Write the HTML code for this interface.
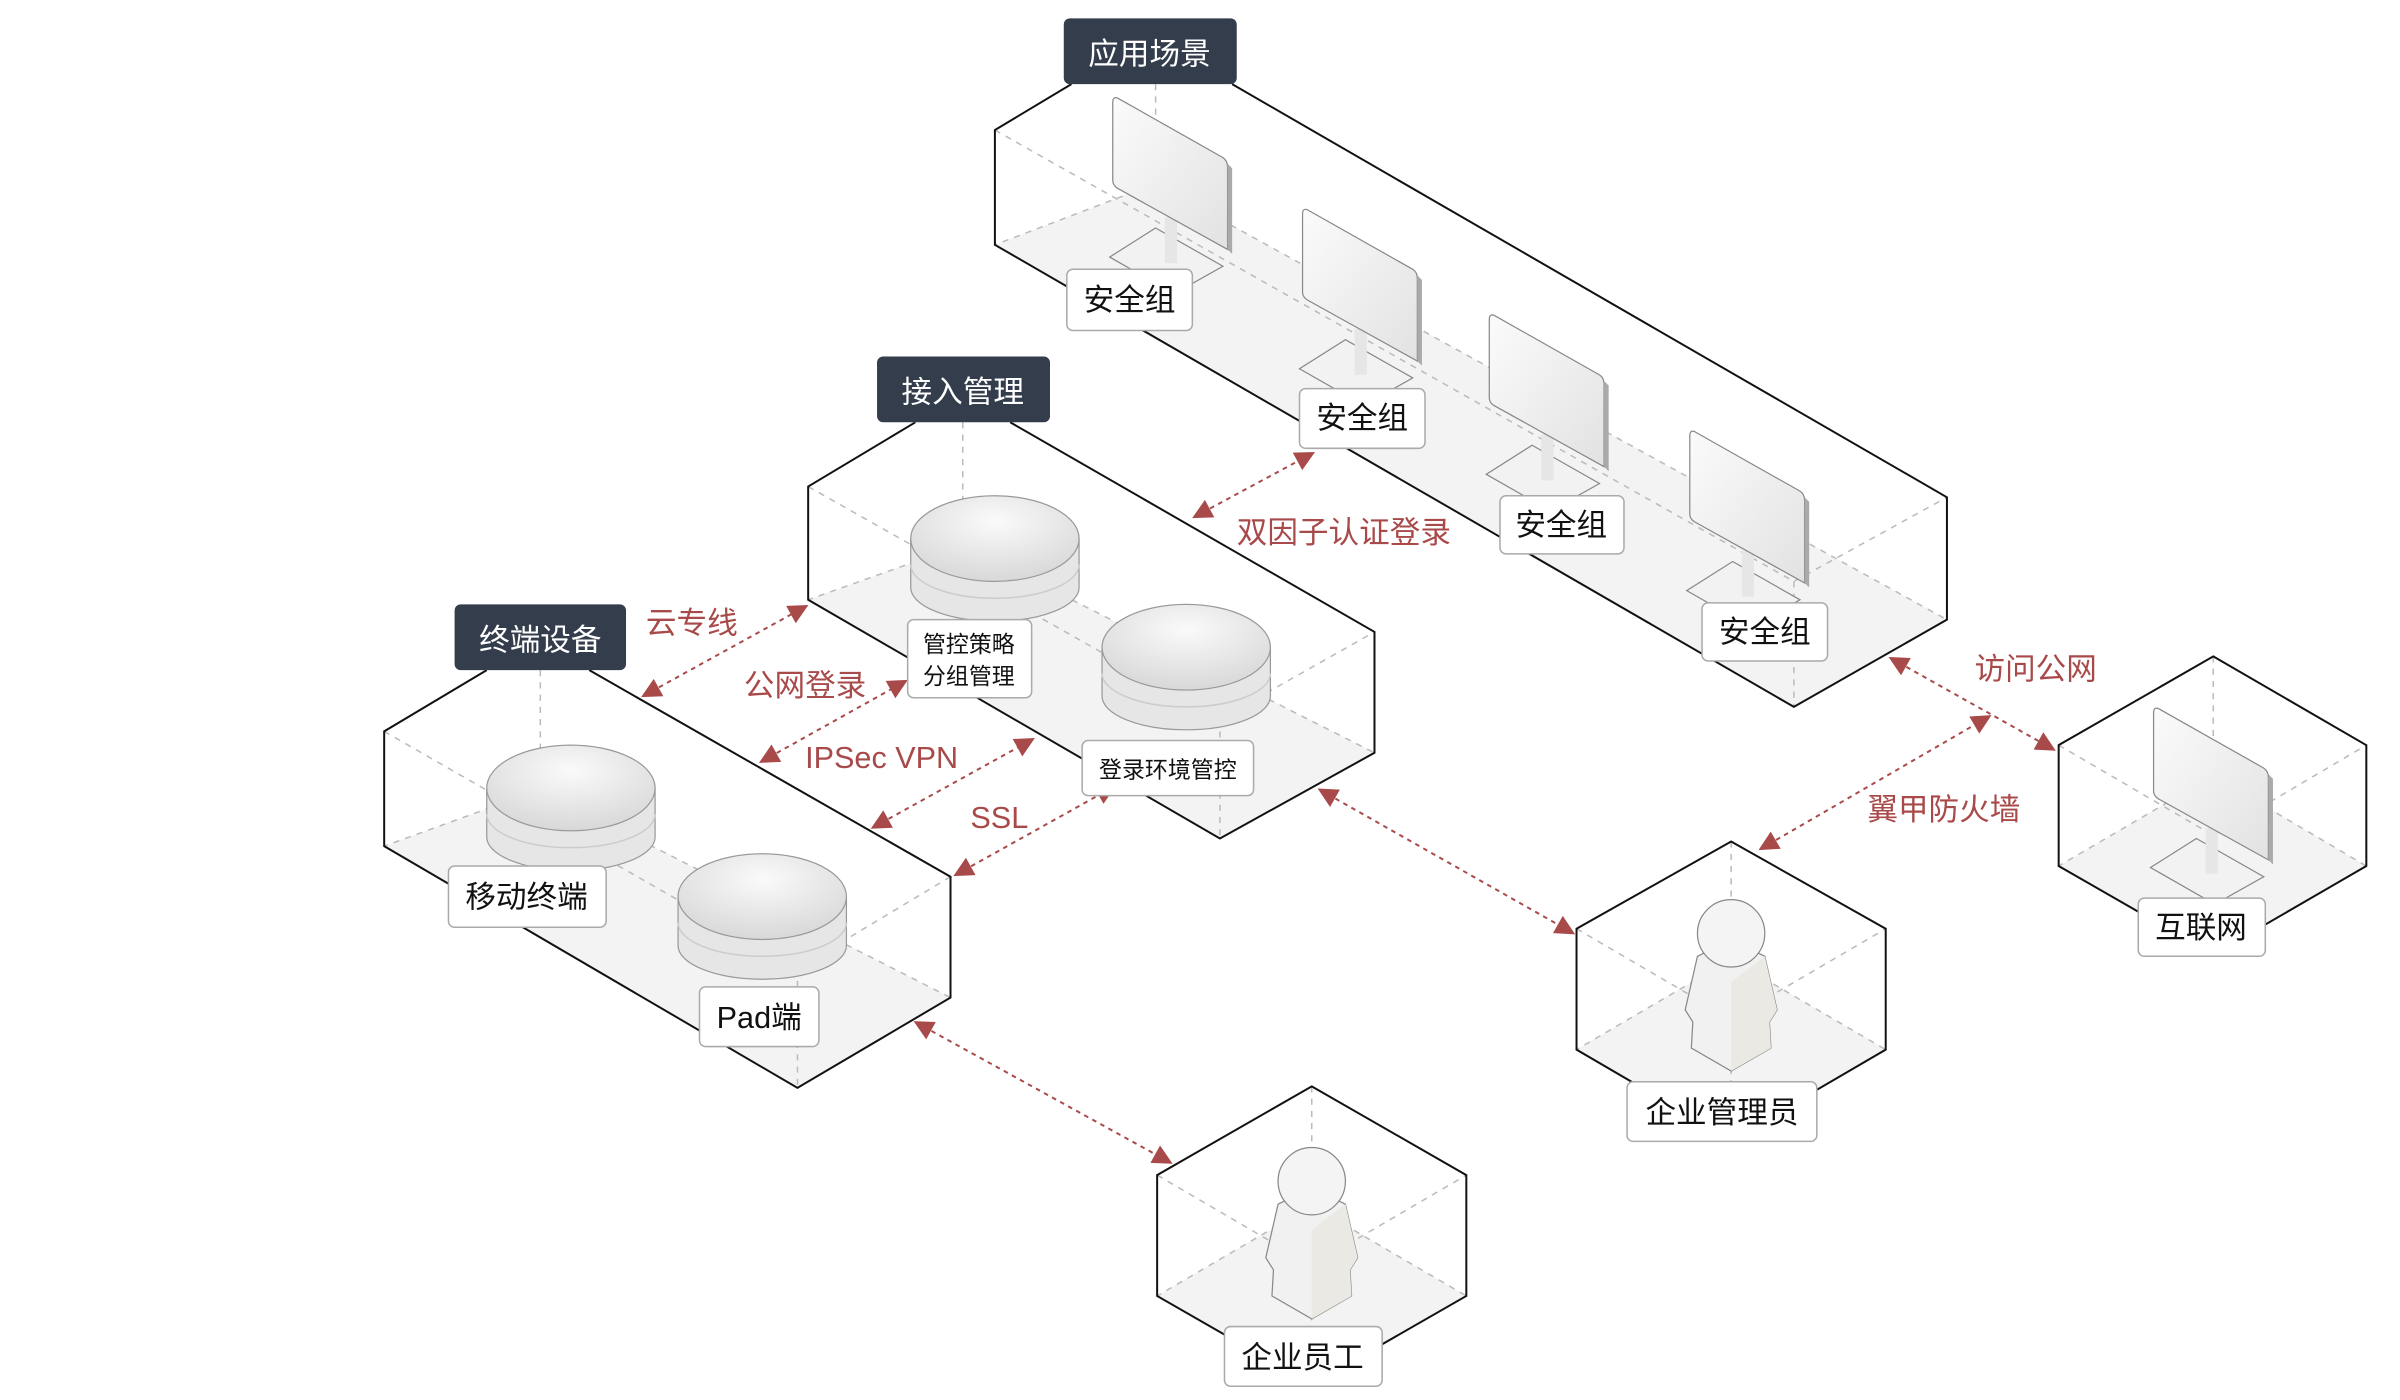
<!DOCTYPE html>
<html><head><meta charset="utf-8"><style>
html,body{margin:0;padding:0;background:#fff;}
svg{display:block}
text{font-family:"Liberation Sans","Noto Sans CJK SC",sans-serif;}
</style></head><body>
<svg width="2400" height="1400" viewBox="0 0 1568 915" preserveAspectRatio="none" xmlns="http://www.w3.org/2000/svg">
<defs>
<marker id="ah" viewBox="0 0 10 10" refX="9" refY="5" markerWidth="17" markerHeight="13" orient="auto-start-reverse" markerUnits="userSpaceOnUse">
<path d="M0,0 L10,5 L0,10 z" fill="#a94a4a"/></marker>
<linearGradient id="scr" x1="0" y1="0" x2="1" y2="1"><stop offset="0" stop-color="#fbfbfb"/><stop offset="1" stop-color="#e2e2e2"/></linearGradient>
<radialGradient id="cyl" cx="0.5" cy="0.3" r="0.7"><stop offset="0" stop-color="#fafafa"/><stop offset="1" stop-color="#d8d8d8"/></radialGradient>
<g id="mon">
<path d="M28,85 L72,110 L40,128 L-2,104 z" fill="#f2f2f2" stroke="#888" stroke-width="0.8"/>
<rect x="34" y="78" width="8" height="30" fill="#e6e6e6"/>
<path d="M3,0 L72,39 Q75,41 75,45 L75,99 L3,59 Q0,57 0,54 L0,3 Q0,-1 3,0 z" fill="url(#scr)" stroke="#888" stroke-width="0.8"/>
<path d="M75,43 L78,46 L78,102 L75,99 z" fill="#aaa"/>
</g>
<g id="cy">
<path d="M0,28 L0,60 A55,22 0 0 0 110,60 L110,28" fill="#e6e6e6" stroke="#999" stroke-width="0.8"/>
<ellipse cx="55" cy="28" rx="55" ry="28" fill="url(#cyl)" stroke="#999" stroke-width="0.8"/>
<path d="M0,45 A55,22 0 0 0 110,45" fill="none" stroke="#ccc"/>
</g>
<g id="per">
<path d="M-22,55 L-30,90 L-25,98 L-26,115 L0,130 L26,115 L25,98 L30,90 L22,55 L0,44 z" fill="#f1f1f1" stroke="#888" stroke-width="0.8"/>
<path d="M0,72 L0,130 L26,115 L25,98 L30,90 L22,55 z" fill="#ebe9e4"/>
<circle cx="0" cy="40" r="22" fill="#f4f4f4" stroke="#888" stroke-width="0.8"/>
</g>
</defs>

<!-- box 应用场景 -->
<polygon points="650,160 1172,462 1272,405 1272,325 755,80 650,85" fill="#fff"/>
<polygon points="650,160 755,120 1272,405 1172,462" fill="#f3f3f3"/>
<g stroke="#bbb" stroke-dasharray="4,4" fill="none"><path d="M755,55 L755,120 L650,160 M755,120 L1272,405 M650,85 L1172,380 L1272,325 M1172,380 L1172,462"/></g>
<path d="M700,55 L650,85 L650,160 L1172,462 L1272,405 L1272,325 L805,55" fill="none" stroke="#111" stroke-width="1.3"/>

<!-- box 接入管理 -->
<polygon points="528,318 598,276 660,276 898,413 898,492 797,548 528,392" fill="#fff"/>
<polygon points="528,392 629,356 898,492 797,548" fill="#f3f3f3"/>
<g stroke="#bbb" stroke-dasharray="4,4" fill="none"><path d="M629,276 L629,356 L528,392 M629,356 L898,492 M528,318 L797,470 L898,413 M797,470 L797,548"/></g>
<path d="M598,276 L528,318 L528,392 L797,548 L898,492 L898,413 L660,276" fill="none" stroke="#111" stroke-width="1.3"/>

<!-- box 终端设备 -->
<polygon points="251,478 318,438 385,438 621,573 621,652 521,711 251,553" fill="#fff"/>
<polygon points="251,553 353,516 621,652 521,711" fill="#f3f3f3"/>
<g stroke="#bbb" stroke-dasharray="4,4" fill="none"><path d="M353,438 L353,516 L251,553 M353,516 L621,652 M251,478 L521,633 L621,573 M521,633 L521,711"/></g>
<path d="M318,438 L251,478 L251,553 L521,711 L621,652 L621,573 L385,438" fill="none" stroke="#111" stroke-width="1.3"/>

<!-- hexagons -->
<g>
<polygon points="1030,686 1131,627 1232,686 1131,745" fill="#f3f3f3"/>
<path d="M1131,550 L1131,627 L1030,686 M1131,627 L1232,686 M1030,607 L1131,666 L1232,607 M1131,666 L1131,745" stroke="#bbb" stroke-dasharray="4,4" fill="none"/>
<polygon points="1131,550 1232,607 1232,686 1131,745 1030,686 1030,607" fill="none" stroke="#111" stroke-width="1.3"/>
<polygon points="756,847 857,788 958,847 857,905" fill="#f3f3f3"/>
<path d="M857,710 L857,788 L756,847 M857,788 L958,847 M756,768 L857,827 L958,768 M857,827 L857,905" stroke="#bbb" stroke-dasharray="4,4" fill="none"/>
<polygon points="857,710 958,768 958,847 857,905 756,847 756,768" fill="none" stroke="#111" stroke-width="1.3"/>
<polygon points="1345,566 1446,507 1546,566 1446,624" fill="#f3f3f3"/>
<path d="M1446,429 L1446,507 L1345,566 M1446,507 L1546,566 M1345,487 L1446,546 L1546,487 M1446,546 L1446,624" stroke="#bbb" stroke-dasharray="4,4" fill="none"/>
<polygon points="1446,429 1546,487 1546,566 1446,624 1345,566 1345,487" fill="none" stroke="#111" stroke-width="1.3"/>
</g>

<!-- devices -->
<use href="#mon" x="727" y="64"/>
<use href="#mon" x="851" y="137"/>
<use href="#mon" x="973" y="206"/>
<use href="#mon" x="1104" y="282"/>
<use href="#mon" x="1407" y="463"/>
<use href="#cy" x="595" y="324"/>
<use href="#cy" x="720" y="395"/>
<use href="#cy" x="318" y="487"/>
<use href="#cy" x="443" y="558"/>
<use href="#per" x="1131" y="570"/>
<use href="#per" x="857" y="732"/>

<!-- connectors -->
<g stroke="#a94a4a" stroke-width="1.3" stroke-dasharray="3,3" fill="none" marker-start="url(#ah)" marker-end="url(#ah)">
<line x1="780" y1="338" x2="858" y2="296"/>
<line x1="1235" y1="430" x2="1342" y2="490"/>
<line x1="1150" y1="555" x2="1300" y2="468"/>
<line x1="420" y1="455" x2="527" y2="396"/>
<line x1="497" y1="498" x2="592" y2="445"/>
<line x1="570" y1="541" x2="675" y2="483"/>
<line x1="624" y1="572" x2="728" y2="514"/>
<line x1="862" y1="516" x2="1028" y2="610"/>
<line x1="598" y1="668" x2="765" y2="760"/>
</g>
<g fill="#a94a4a" font-size="20">
<text x="808" y="355">双因子认证登录</text>
<text x="1290" y="444">访问公网</text>
<text x="1220" y="536">翼甲防火墙</text>
<text x="422" y="414">云专线</text>
<text x="486" y="455">公网登录</text>
<text x="526" y="502">IPSec VPN</text>
<text x="634" y="541">SSL</text>
</g>

<!-- dark headers -->
<g font-size="20" fill="#fff">
<rect x="695" y="12" width="113" height="43" rx="4" fill="#333d4c"/><text x="751" y="42" text-anchor="middle">应用场景</text>
<rect x="573" y="233" width="113" height="43" rx="4" fill="#333d4c"/><text x="629" y="263" text-anchor="middle">接入管理</text>
<rect x="297" y="395" width="112" height="43" rx="4" fill="#333d4c"/><text x="353" y="425" text-anchor="middle">终端设备</text>
</g>

<!-- white labels -->
<g fill="#fff" stroke="#aaa" stroke-width="1">
<rect x="697" y="176" width="82" height="40" rx="4"/>
<rect x="849" y="254" width="82" height="39" rx="4"/>
<rect x="980" y="324" width="81" height="38" rx="4"/>
<rect x="1112" y="394" width="82" height="38" rx="4"/>
<rect x="593" y="405" width="81" height="51" rx="4"/>
<rect x="707" y="484" width="112" height="36" rx="4"/>
<rect x="293" y="566" width="103" height="40" rx="4"/>
<rect x="457" y="645" width="78" height="39" rx="4"/>
<rect x="1063" y="707" width="124" height="39" rx="4"/>
<rect x="800" y="867" width="103" height="39" rx="4"/>
<rect x="1397" y="587" width="83" height="38" rx="4"/>
</g>
<g font-size="20" fill="#111" text-anchor="middle">
<text x="738" y="203">安全组</text>
<text x="890" y="280">安全组</text>
<text x="1020" y="350">安全组</text>
<text x="1153" y="420">安全组</text>
<text x="633" y="426" font-size="15">管控策略</text>
<text x="633" y="447" font-size="15">分组管理</text>
<text x="763" y="508" font-size="15">登录环境管控</text>
<text x="344" y="593">移动终端</text>
<text x="496" y="672">Pad端</text>
<text x="1125" y="734">企业管理员</text>
<text x="851" y="894">企业员工</text>
<text x="1438" y="613">互联网</text>
</g>
</svg>
</body></html>
